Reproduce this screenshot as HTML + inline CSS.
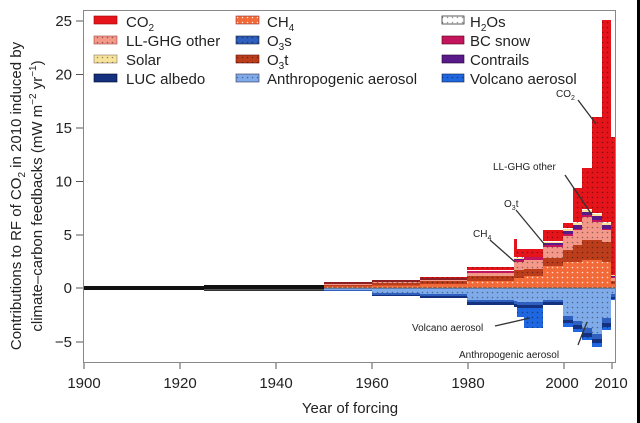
<!DOCTYPE html>
<html><head><style>
html,body{margin:0;padding:0;background:#fff;width:640px;height:423px;overflow:hidden}
svg{display:block}
text{font-family:"Liberation Sans",sans-serif;fill:#222}
</style></head><body>
<svg width="640" height="423" viewBox="0 0 640 423" xmlns="http://www.w3.org/2000/svg" xmlns:xlink="http://www.w3.org/1999/xlink">
<defs>
<pattern id="d" width="5" height="5" patternUnits="userSpaceOnUse"><circle cx="2.5" cy="2.5" r="0.8" fill="#000" fill-opacity="0.4"/></pattern>
<pattern id="w" width="5" height="5" patternUnits="userSpaceOnUse"><circle cx="2.5" cy="2.5" r="0.8" fill="#fff" fill-opacity="0.8"/></pattern>
</defs>
<rect x="0" y="0" width="640" height="423" fill="#fff"/>
<rect x="637" y="0" width="3" height="423" fill="#000"/>
<rect x="83.5" y="10.5" width="532" height="352" fill="none" stroke="#888" stroke-width="1"/>

<g fill="#e5141b"><g id="co2">
<rect x="420" y="277" width="47" height="11"/>
<rect x="467" y="267" width="47" height="21"/>
<rect x="514" y="239" width="3" height="49"/>
<rect x="517" y="249" width="7" height="39"/>
<rect x="524" y="249" width="19" height="39"/>
<rect x="543" y="230" width="20" height="58"/>
<rect x="563" y="223" width="10" height="65"/>
<rect x="573" y="188" width="9" height="100"/>
<rect x="582" y="168" width="10" height="120"/>
<rect x="592" y="117" width="10" height="171"/>
<rect x="602" y="20" width="9" height="268"/>
<rect x="611" y="137" width="4" height="151"/>
</g></g>
<use xlink:href="#co2" fill="url(#d)"/>
<g fill="#fff"><g id="h2o">
<rect x="467" y="270" width="47" height="18"/>
<rect x="514" y="257" width="29" height="31"/>
<rect x="543" y="241" width="20" height="47"/>
<rect x="563" y="228" width="10" height="60"/>
<rect x="573" y="222" width="9" height="66"/>
<rect x="582" y="209" width="10" height="79"/>
<rect x="592" y="213" width="10" height="75"/>
<rect x="602" y="222" width="9" height="66"/>
</g></g>
<use xlink:href="#h2o" fill="url(#d)"/>
<g fill="#f7e39a">
<rect x="514" y="258" width="29" height="30"/>
<rect x="543" y="242" width="20" height="46"/>
<rect x="563" y="229" width="10" height="59"/>
<rect x="573" y="223" width="9" height="65"/>
<rect x="582" y="210" width="10" height="78"/>
<rect x="592" y="214" width="10" height="74"/>
<rect x="602" y="223" width="9" height="65"/>
<rect x="611" y="275" width="4" height="13"/>
</g>
<g fill="#5b1a8a">
<rect x="514" y="259" width="29" height="29"/>
<rect x="543" y="243" width="20" height="45"/>
<rect x="563" y="231" width="10" height="57"/>
<rect x="573" y="225" width="9" height="63"/>
<rect x="582" y="212" width="10" height="76"/>
<rect x="592" y="216" width="10" height="72"/>
<rect x="602" y="225" width="9" height="63"/>
<rect x="611" y="276" width="4" height="12"/>
</g>
<g fill="#c3155e">
<rect x="467" y="271" width="47" height="17"/>
<rect x="514" y="260" width="10" height="28"/>
<rect x="524" y="257" width="19" height="31"/>
<rect x="543" y="245" width="20" height="43"/>
<rect x="563" y="234" width="10" height="54"/>
<rect x="573" y="229" width="9" height="59"/>
<rect x="582" y="215" width="10" height="73"/>
<rect x="592" y="220" width="10" height="68"/>
<rect x="602" y="229" width="9" height="59"/>
<rect x="611" y="277" width="4" height="11"/>
</g>
<g fill="#8e1f22">
<rect x="324" y="282" width="48" height="6"/>
<rect x="372" y="280" width="48" height="8"/>
<rect x="420" y="278" width="47" height="10"/>
</g>
<g fill="#f4998a"><g id="ll">
<rect x="324" y="284" width="48" height="4"/>
<rect x="372" y="282" width="48" height="6"/>
<rect x="420" y="280" width="47" height="8"/>
<rect x="467" y="273" width="47" height="15"/>
<rect x="514" y="262" width="10" height="26"/>
<rect x="524" y="260" width="19" height="28"/>
<rect x="543" y="247" width="20" height="41"/>
<rect x="563" y="236" width="10" height="52"/>
<rect x="573" y="230" width="9" height="58"/>
<rect x="582" y="217" width="10" height="71"/>
<rect x="592" y="222" width="10" height="66"/>
<rect x="602" y="230" width="9" height="58"/>
<rect x="611" y="278" width="4" height="10"/>
</g></g>
<use xlink:href="#ll" fill="url(#d)"/>
<g fill="#bb3d1c"><g id="o3t">
<rect x="324" y="285" width="48" height="3"/>
<rect x="372" y="283" width="48" height="5"/>
<rect x="420" y="281" width="47" height="7"/>
<rect x="467" y="276" width="47" height="12"/>
<rect x="514" y="270" width="10" height="18"/>
<rect x="524" y="269" width="19" height="19"/>
<rect x="543" y="258" width="20" height="30"/>
<rect x="563" y="250" width="10" height="38"/>
<rect x="573" y="245" width="9" height="43"/>
<rect x="582" y="240" width="20" height="48"/>
<rect x="602" y="242" width="9" height="46"/>
<rect x="611" y="281" width="4" height="7"/>
</g></g>
<use xlink:href="#o3t" fill="url(#d)"/>
<g fill="#f36a39"><g id="ch4">
<rect x="324" y="286.5" width="48" height="1.5"/>
<rect x="372" y="285.5" width="48" height="2.5"/>
<rect x="420" y="284" width="47" height="4"/>
<rect x="467" y="281" width="47" height="7"/>
<rect x="514" y="278" width="10" height="10"/>
<rect x="524" y="276" width="19" height="12"/>
<rect x="543" y="266" width="20" height="22"/>
<rect x="563" y="262" width="19" height="26"/>
<rect x="582" y="260" width="20" height="28"/>
<rect x="602" y="262" width="9" height="26"/>
<rect x="611" y="284" width="4" height="4"/>
</g></g>
<use xlink:href="#ch4" fill="url(#w)"/>
<g fill="#1f67e0"><g id="vol">
<rect x="517" y="288" width="7" height="29"/>
<rect x="524" y="288" width="19" height="40"/>
<rect x="563" y="288" width="10" height="39"/>
<rect x="573" y="288" width="9" height="44"/>
<rect x="582" y="288" width="10" height="52"/>
<rect x="592" y="288" width="10" height="59"/>
<rect x="602" y="288" width="9" height="42"/>
<rect x="611" y="288" width="4" height="12"/>
</g></g>
<use xlink:href="#vol" fill="url(#d)"/>
<g fill="#13317f">
<rect x="372" y="288" width="48" height="8"/>
<rect x="420" y="288" width="47" height="10"/>
<rect x="467" y="288" width="47" height="17"/>
<rect x="514" y="288" width="3" height="19"/>
<rect x="517" y="288" width="26" height="20"/>
<rect x="543" y="288" width="20" height="17"/>
<rect x="563" y="288" width="10" height="35"/>
<rect x="573" y="288" width="9" height="41"/>
<rect x="582" y="288" width="10" height="49"/>
<rect x="592" y="288" width="10" height="55"/>
<rect x="602" y="288" width="9" height="39"/>
<rect x="611" y="288" width="4" height="11"/>
</g>
<g fill="#2f5fbf">
<rect x="324" y="288" width="48" height="3"/>
<rect x="372" y="288" width="48" height="7"/>
<rect x="420" y="288" width="47" height="8"/>
<rect x="467" y="288" width="47" height="14"/>
<rect x="514" y="288" width="3" height="16"/>
<rect x="517" y="288" width="26" height="17"/>
<rect x="543" y="288" width="20" height="14"/>
<rect x="563" y="288" width="10" height="32"/>
<rect x="573" y="288" width="9" height="37"/>
<rect x="582" y="288" width="10" height="45"/>
<rect x="592" y="288" width="10" height="51"/>
<rect x="602" y="288" width="9" height="35"/>
<rect x="611" y="288" width="4" height="9"/>
</g>
<g fill="#7fabea"><g id="an">
<rect x="324" y="288" width="48" height="2"/>
<rect x="372" y="288" width="48" height="5"/>
<rect x="420" y="288" width="47" height="6"/>
<rect x="467" y="288" width="47" height="12"/>
<rect x="514" y="288" width="3" height="13"/>
<rect x="517" y="288" width="26" height="14"/>
<rect x="543" y="288" width="20" height="12"/>
<rect x="563" y="288" width="10" height="28"/>
<rect x="573" y="288" width="9" height="33"/>
<rect x="582" y="288" width="10" height="40"/>
<rect x="592" y="288" width="10" height="46"/>
<rect x="602" y="288" width="9" height="30"/>
<rect x="611" y="288" width="4" height="6"/>
</g></g>
<use xlink:href="#an" fill="url(#d)"/>

<rect x="84" y="286" width="120" height="4" fill="#111"/>
<rect x="204" y="285" width="120" height="6" fill="#111"/>
<rect x="204" y="289" width="120" height="1.5" fill="#555"/>
<line x1="324" y1="288" x2="615" y2="288" stroke="#333" stroke-width="0.8"/>

<g stroke="#555" stroke-width="1">
<line x1="76" y1="21" x2="83" y2="21"/><line x1="76" y1="74.5" x2="83" y2="74.5"/><line x1="76" y1="128" x2="83" y2="128"/><line x1="76" y1="181.5" x2="83" y2="181.5"/><line x1="76" y1="235" x2="83" y2="235"/><line x1="76" y1="288" x2="83" y2="288"/><line x1="76" y1="342" x2="83" y2="342"/>
<line x1="84" y1="363" x2="84" y2="369"/><line x1="180" y1="363" x2="180" y2="369"/><line x1="276" y1="363" x2="276" y2="369"/><line x1="372" y1="363" x2="372" y2="369"/><line x1="468" y1="363" x2="468" y2="369"/><line x1="564" y1="363" x2="564" y2="369"/><line x1="612" y1="363" x2="612" y2="369"/>
</g>
<g font-size="15" text-anchor="end">
<text x="72" y="26">25</text><text x="72" y="79.5">20</text><text x="72" y="133">15</text><text x="72" y="186.5">10</text><text x="72" y="240">5</text><text x="72" y="293">0</text><text x="72" y="347">−5</text>
</g>
<g font-size="15" text-anchor="middle">
<text x="84" y="388">1900</text><text x="180" y="388">1920</text><text x="276" y="388">1940</text><text x="372" y="388">1960</text><text x="468" y="388">1980</text><text x="562" y="388">2000</text><text x="611" y="388">2010</text>
<text x="350" y="413">Year of forcing</text>
</g>
<g font-size="15" text-anchor="middle">
<text transform="translate(21,196) rotate(-90)">Contributions to RF of CO<tspan font-size="10" dy="4">2</tspan><tspan dy="-4"> in 2010 induced by</tspan></text>
<text transform="translate(42,196) rotate(-90)">climate–carbon feedbacks (mW m<tspan font-size="10" dy="-6">−2</tspan><tspan dy="6"> yr</tspan><tspan font-size="10" dy="-6">−1</tspan><tspan dy="6">)</tspan></text>
</g>
<g font-size="15">
<rect x="94" y="16" width="23" height="8" fill="#e5141b" stroke="#900" stroke-width=".6"/><text x="126" y="27">CO<tspan font-size="10" dy="4">2</tspan></text>
<rect x="94" y="36" width="23" height="8" fill="#f4998a" stroke="#a44" stroke-width=".6"/><rect x="94" y="36" width="23" height="8" fill="url(#d)"/><text x="126" y="46">LL-GHG other</text>
<rect x="94" y="55" width="23" height="8" fill="#f7e39a" stroke="#876" stroke-width=".6"/><rect x="94" y="55" width="23" height="8" fill="url(#d)"/><text x="126" y="65">Solar</text>
<rect x="94" y="74" width="23" height="8" fill="#13317f" stroke="#002" stroke-width=".6"/><text x="126" y="84">LUC albedo</text>
<rect x="236" y="16" width="23" height="8" fill="#f36a39" stroke="#933" stroke-width=".6"/><rect x="236" y="16" width="23" height="8" fill="url(#w)"/><text x="267" y="27">CH<tspan font-size="10" dy="4">4</tspan></text>
<rect x="236" y="36" width="23" height="8" fill="#2f5fbf" stroke="#123" stroke-width=".6"/><rect x="236" y="36" width="23" height="8" fill="url(#d)"/><text x="267" y="46">O<tspan font-size="10" dy="4">3</tspan><tspan dy="-4">s</tspan></text>
<rect x="236" y="55" width="23" height="8" fill="#bb3d1c" stroke="#611" stroke-width=".6"/><rect x="236" y="55" width="23" height="8" fill="url(#d)"/><text x="267" y="65">O<tspan font-size="10" dy="4">3</tspan><tspan dy="-4">t</tspan></text>
<rect x="236" y="74" width="23" height="8" fill="#7fabea" stroke="#335" stroke-width=".6"/><rect x="236" y="74" width="23" height="8" fill="url(#d)"/><text x="267" y="84">Anthropogenic aerosol</text>
<rect x="442" y="16" width="22" height="8" fill="#fff" stroke="#333" stroke-width=".8"/><rect x="442" y="16" width="22" height="8" fill="url(#d)"/><text x="470" y="27">H<tspan font-size="10" dy="4">2</tspan><tspan dy="-4">Os</tspan></text>
<rect x="442" y="36" width="22" height="8" fill="#c3155e" stroke="#501" stroke-width=".6"/><text x="470" y="46">BC snow</text>
<rect x="442" y="55" width="22" height="8" fill="#5b1a8a" stroke="#203" stroke-width=".6"/><text x="470" y="65">Contrails</text>
<rect x="442" y="74" width="22" height="8" fill="#1f67e0" stroke="#124" stroke-width=".6"/><rect x="442" y="74" width="22" height="8" fill="url(#d)"/><text x="470" y="84">Volcano aerosol</text>
</g>
<g font-size="10" fill="#333">
<text x="556" y="97">CO<tspan font-size="7" dy="3">2</tspan></text>
<text x="493" y="170">LL-GHG other</text>
<text x="504" y="207">O<tspan font-size="7" dy="3">3</tspan><tspan dy="-3">t</tspan></text>
<text x="473" y="237">CH<tspan font-size="7" dy="3">4</tspan></text>
<text x="412" y="331">Volcano aerosol</text>
<text x="459" y="358">Anthropogenic aerosol</text>
</g>
<g stroke="#333" stroke-width="1.3" fill="none">
<line x1="578" y1="100" x2="596" y2="124"/>
<line x1="565" y1="175" x2="592" y2="215"/>
<line x1="516" y1="210" x2="545" y2="245"/>
<line x1="490" y1="240" x2="515" y2="262"/>
<line x1="495" y1="326" x2="530" y2="318"/>
<line x1="578" y1="345" x2="587" y2="322"/>
</g>
</svg>
</body></html>
